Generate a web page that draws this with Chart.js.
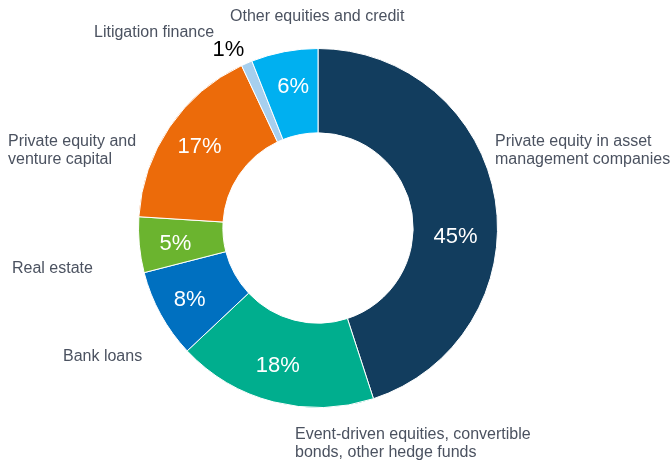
<!DOCTYPE html>
<html>
<head>
<meta charset="utf-8">
<script src="https://cdn.jsdelivr.net/npm/chart.js@4"></script>
<style>
  html, body { margin: 0; padding: 0; background: #fff; }
  #wrap { width: 670px; height: 461px; position: relative; }
</style>
</head>
<body>
<div id="wrap"><canvas id="chart"></canvas></div>
<script>
'use strict';

// Kategorien (im Uhrzeigersinn ab 12 Uhr)
const categories = [
  ['Private equity in asset', 'management companies'],
  ['Event-driven equities, convertible', 'bonds, other hedge funds'],
  ['Bank loans'],
  ['Real estate'],
  ['Private equity and', 'venture capital'],
  ['Litigation finance'],
  ['Other equities and credit']
];

// Anteile in %
const shares = [45, 18, 8, 5, 17, 1, 6];

const colors = ['#123d5e', '#00ae8e', '#0070c0', '#6bb42f', '#ec6b0a', '#a6cfee', '#00b0f0'];

// Beschriftungen: Versatz relativ zur Segmentmitte bzw. zum Kreismittelpunkt
const pctStyle = {
  offsets: [[2, 30], [-6, 5], [-8, 6], [-6, 3], [-5, -4], [-35, -52], [1, -6]],
  inside: [true, true, true, true, true, false, true]
};
const labelStyle = {
  // [dx, dy] vom Mittelpunkt, linke Kante / erste Zeile
  offsets: [[177, -86], [-23, 207], [-255, 129], [-306, 41], [-310, -86], [-224, -195], [-88, -211]]
};

const labelPlugin = {
  id: 'sliceLabels',
  afterDatasetsDraw(chart) {
    const { ctx } = chart;
    const meta = chart.getDatasetMeta(0);
    const first = meta.data[0];
    const cx = first.x, cy = first.y;
    ctx.save();
    ctx.textBaseline = 'middle';

    // Prozentwerte
    ctx.font = '22px "Liberation Sans", Arial, sans-serif';
    ctx.textAlign = 'center';
    meta.data.forEach((arc, i) => {
      const p = arc.getCenterPoint();
      const [dx, dy] = pctStyle.offsets[i];
      ctx.fillStyle = pctStyle.inside[i] ? '#ffffff' : '#000000';
      ctx.fillText(`${shares[i]}%`, p.x + dx, p.y + dy);
    });

    // Kategorienamen
    ctx.font = '16px "Liberation Sans", Arial, sans-serif';
    ctx.textAlign = 'left';
    ctx.fillStyle = '#4b5260';
    categories.forEach((lines, i) => {
      const [dx, dy] = labelStyle.offsets[i];
      lines.forEach((line, j) => {
        ctx.fillText(line, cx + dx, cy + dy + j * 18);
      });
    });
    ctx.restore();
  }
};

new Chart(document.getElementById('chart'), {
  type: 'doughnut',
  data: {
    labels: categories.map(l => l.join(' ')),
    datasets: [{
      data: shares,
      backgroundColor: colors,
      borderColor: '#ffffff',
      borderWidth: 1
    }]
  },
  options: {
    responsive: true,
    maintainAspectRatio: false,
    animation: false,
    cutout: '53%',
    layout: { padding: { left: 138, right: 172, top: 48, bottom: 53 } },
    plugins: {
      legend: { display: false },
      tooltip: { enabled: false }
    }
  },
  plugins: [labelPlugin]
});
</script>
</body>
</html>
